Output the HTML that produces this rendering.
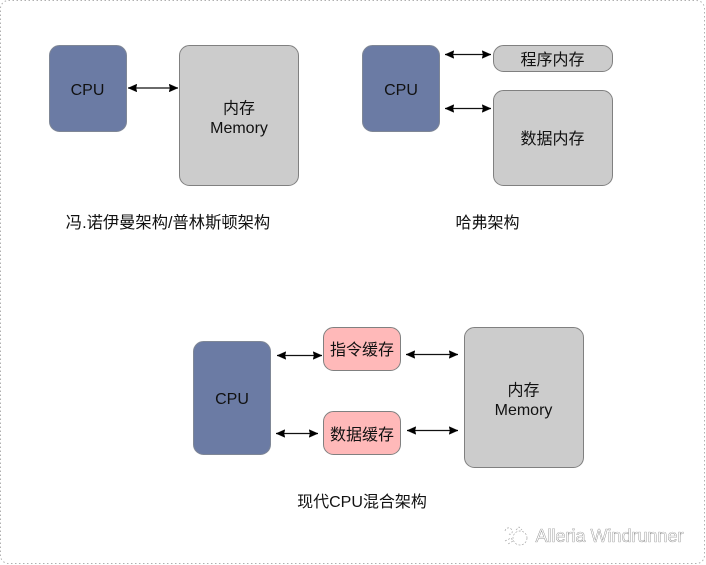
<!DOCTYPE html>
<html><head><meta charset="utf-8">
<style>
html,body{margin:0;padding:0;background:#fff}
svg{display:block}
text{font-family:"Liberation Sans","Noto Sans CJK SC",sans-serif;fill:#111;text-anchor:middle}
.c{fill:#6b7ba4;stroke:#7f8796;stroke-width:1}
.m{fill:#cccccc;stroke:#808080;stroke-width:1}
.p{fill:#ffb9b9;stroke:#808080;stroke-width:1}
.l{stroke:#111;stroke-width:1.200;fill:none;marker-start:url(#a);marker-end:url(#a)}
</style></head><body>
<svg width="706" height="565" viewBox="0 0 706 565" xmlns="http://www.w3.org/2000/svg">
<defs><marker id="a" markerUnits="userSpaceOnUse" markerWidth="10" markerHeight="8" refX="9" refY="4" orient="auto-start-reverse"><path d="M0 0L9 4L0 8L1 4Z" fill="#000" stroke="#000" stroke-width=".3"/></marker></defs>
<rect x="0.500" y="0.500" width="704" height="563" rx="8" fill="#fff" stroke="#b0b0b0" stroke-width="1" stroke-dasharray="1.500 2.500"/>

<rect class="c" x="49.500" y="45.500" width="77" height="86" rx="10"/>
<text x="87.500" y="95" font-size="16">CPU</text>
<rect class="m" x="179.500" y="45.500" width="119" height="140" rx="10"/>
<text x="239" y="113.500" font-size="16">内存</text>
<text x="239" y="133" font-size="16">Memory</text>
<path class="l" d="M128 88H178"/>
<text x="168" y="228" font-size="16.300">冯.诺伊曼架构/普林斯顿架构</text>

<rect class="c" x="362.500" y="45.500" width="77" height="86" rx="10"/>
<text x="401" y="95" font-size="16">CPU</text>
<rect class="m" x="493.500" y="45.500" width="119" height="26" rx="10"/>
<text x="552.500" y="65" font-size="16">程序内存</text>
<rect class="m" x="493.500" y="90.500" width="119" height="95" rx="10"/>
<text x="552.500" y="144" font-size="16">数据内存</text>
<path class="l" d="M445 54.500H491"/>
<path class="l" d="M445 108.500H491"/>
<text x="487.500" y="228" font-size="16">哈弗架构</text>

<rect class="c" x="193.500" y="341.500" width="77" height="113" rx="10"/>
<text x="232" y="404" font-size="16">CPU</text>
<rect class="p" x="323.500" y="327.500" width="77" height="43" rx="10"/>
<text x="362" y="355" font-size="16">指令缓存</text>
<rect class="p" x="323.500" y="411.500" width="77" height="43" rx="10"/>
<text x="362" y="440" font-size="16">数据缓存</text>
<rect class="m" x="464.500" y="327.500" width="119" height="140" rx="10"/>
<text x="523.500" y="395.500" font-size="16">内存</text>
<text x="523.500" y="415" font-size="16">Memory</text>
<path class="l" d="M277 355.500H322"/>
<path class="l" d="M276 433.500H318"/>
<path class="l" d="M406 354.500H458"/>
<path class="l" d="M407 430.500H458"/>
<text x="362" y="507" font-size="16">现代CPU混合架构</text>

<g fill="none" stroke="#a8a8a8" stroke-width="0.700" stroke-dasharray="2 1.500">
<path d="M505 531c1-4 5-4 7-1c1 3-1 5-3 4M505 541l6-3 2 3-5 3"/>
<path d="M516 530l3-3 3 3"/>
<circle cx="520" cy="538" r="7"/>
</g>
<text x="609.500" y="542" font-size="18" style="fill:#fafafa;stroke:#777;stroke-width:.35">Alleria Windrunner</text>
</svg>
</body></html>
